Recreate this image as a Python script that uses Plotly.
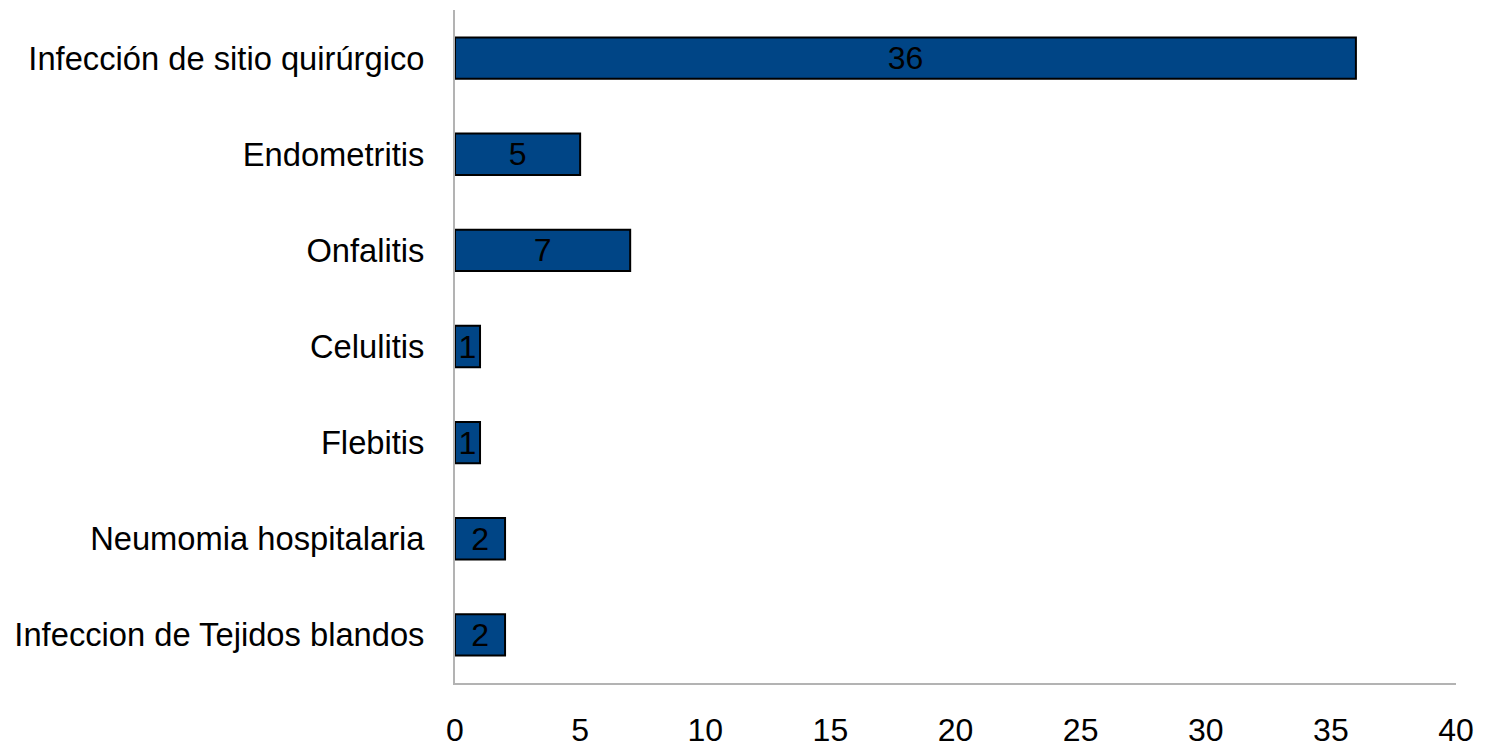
import plotly.graph_objects as go

categories = [
    "Infección de sitio quirúrgico",
    "Endometritis",
    "Onfalitis",
    "Celulitis",
    "Flebitis",
    "Neumomia hospitalaria",
    "Infeccion de Tejidos blandos",
]
values = [36, 5, 7, 1, 1, 2, 2]
x_ticks = [0, 5, 10, 15, 20, 25, 30, 35, 40]

fig = go.Figure(
    go.Bar(
        y=categories,
        x=values,
        orientation="h",
        marker=dict(color="#004586", line=dict(color="#000000", width=2)),
        text=[str(v) for v in values],
        textposition="inside",
        insidetextanchor="middle",
        textangle=0,
        constraintext="none",
        textfont=dict(family="Liberation Sans, Arial, sans-serif", size=32, color="#000000"),
        cliponaxis=False,
        hoverinfo="skip",
    )
)

fig.update_layout(
    width=1491,
    height=751,
    margin=dict(l=455, r=35, t=10, b=68),
    plot_bgcolor="white",
    paper_bgcolor="white",
    bargap=0.57,
    showlegend=False,
    font=dict(family="Liberation Sans, Arial, sans-serif", size=32, color="#000000"),
)
fig.update_xaxes(
    range=[0, 40],
    tickvals=x_ticks,
    ticktext=[str(t) for t in x_ticks],
    showgrid=False,
    zeroline=False,
    showline=True,
    linecolor="#b3b3b3",
    linewidth=2,
    ticks="",
    ticklabelstandoff=18,
    tickfont=dict(size=32),
    automargin=False,
)
fig.update_yaxes(
    categoryorder="array",
    categoryarray=categories[::-1],
    showgrid=False,
    zeroline=False,
    showline=True,
    linecolor="#b3b3b3",
    linewidth=2,
    ticks="",
    ticklabelstandoff=22,
    tickfont=dict(size=32.7),
    automargin=False,
)

fig.write_html(
    "out.html",
    config={"displayModeBar": False},
    post_script="document.body.style.margin='0';document.body.style.overflow='hidden';",
)
